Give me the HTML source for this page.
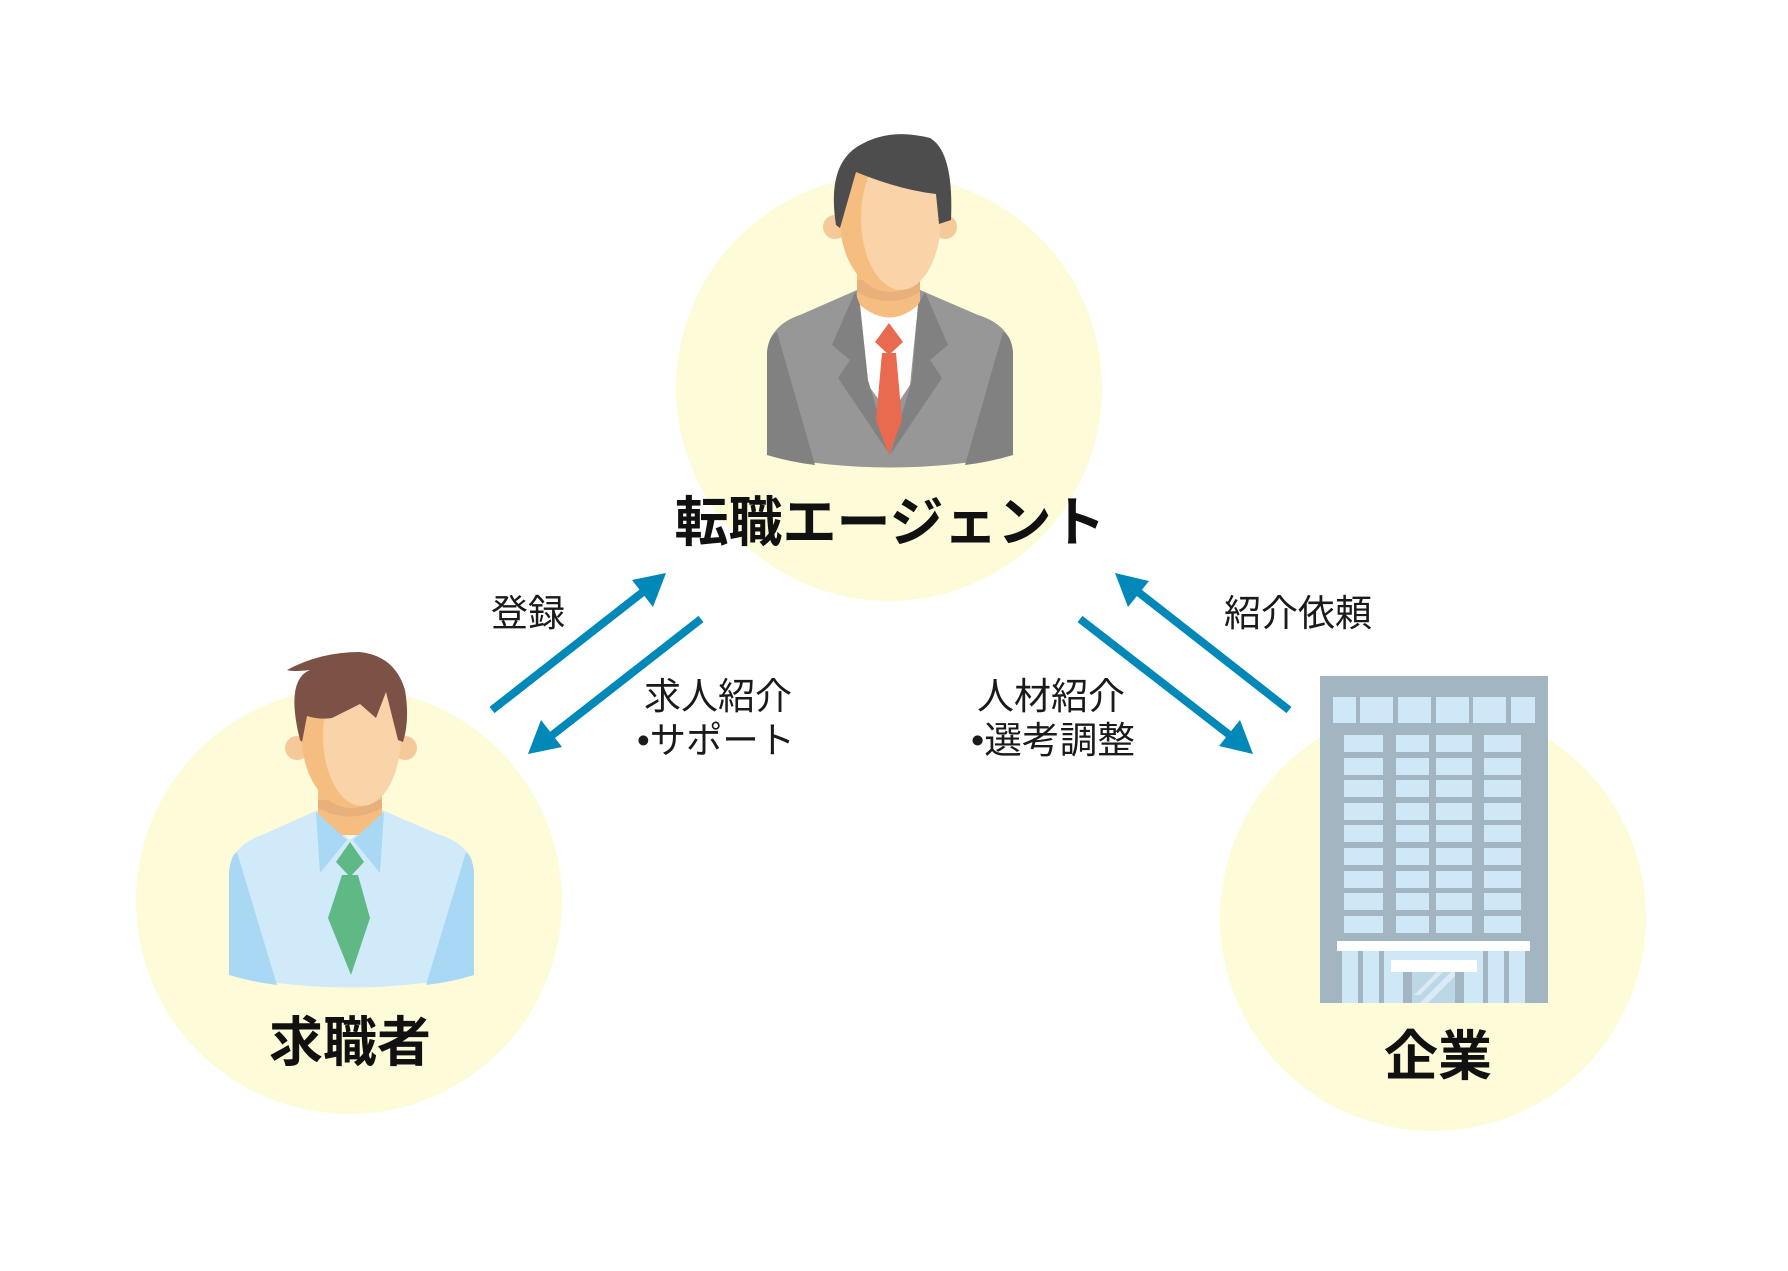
<!DOCTYPE html>
<html><head><meta charset="utf-8"><style>
html,body{margin:0;padding:0;background:#fff;}
svg{display:block;}
text{font-family:"Liberation Sans","Noto Sans CJK JP",sans-serif;}
</style></head><body>
<svg width="1788" height="1271" viewBox="0 0 1788 1271" xmlns="http://www.w3.org/2000/svg">
<rect width="1788" height="1271" fill="#fff"/>
<circle cx="889" cy="388" r="213" fill="#fefbd8"/>
<circle cx="349" cy="901" r="213" fill="#fefbd8"/>
<circle cx="1433" cy="918" r="213" fill="#fefbd8"/>

<!-- Agent -->
<g transform="translate(750,120)">
  <path d="M17,335 L17,232 Q20,205 50,195 L107,170 L140,200 L170,170 L228,195 Q260,205 263,232 L263,335 Q140,360 17,335 Z" fill="#969796"/>
  <path d="M17,335 L17,232 Q19,215 27,212 L65,345 Q40,342 17,335 Z" fill="#818181"/>
  <path d="M263,335 L263,232 Q261,215 253,212 L215,345 Q240,342 263,335 Z" fill="#818181"/>
  <rect x="107" y="145" width="63" height="55" fill="#f6bd80"/>
  <path d="M107,172 Q140,190 170,172 L170,160 L107,160Z" fill="#e8b07a"/>
  <path d="M110,185 Q140,210 168,185 L160,265 L140,295 L118,265 Z" fill="#fff"/>
  <path d="M105,172 L82,225 L100,240 L88,258 L140,335 L118,260 L110,185Z" fill="#818181"/>
  <path d="M175,172 L198,225 L180,240 L192,258 L140,335 L162,260 L168,185Z" fill="#818181"/>
  <path d="M139,203 L153,222 L139,235 L125,222Z" fill="#e96a4f"/>
  <path d="M132,233 L146,233 L152,300 L139,335 L126,300Z" fill="#e96a4f"/>
  <circle cx="85" cy="107" r="12" fill="#f6c999"/>
  <circle cx="195" cy="107" r="12" fill="#f6c999"/>
  <ellipse cx="140" cy="100" rx="50" ry="72" fill="#f6bd80"/>
  <ellipse cx="151" cy="98" rx="40" ry="72" fill="#f9d4a8"/>
  <path d="M86,105 Q76,42 112,24 Q140,8 180,18 Q204,32 201,100 L189,104 L186,74 Q150,70 106,52 L90,108 Z" fill="#4d4d4d"/>
</g>

<!-- Seeker -->
<g transform="translate(210,640)">
  <path d="M19,335 L19,232 Q22,205 52,195 L108,170 L140,200 L172,170 L230,195 Q262,205 264,232 L264,335 Q140,360 19,335 Z" fill="#d0eaf9"/>
  <path d="M19,335 L19,232 Q21,215 27,212 L67,345 Q42,342 19,335 Z" fill="#a9d8f5"/>
  <path d="M264,335 L264,232 Q262,215 256,212 L216,345 Q242,342 264,335 Z" fill="#a9d8f5"/>
  <rect x="108" y="145" width="64" height="50" fill="#f6bd80"/>
  <path d="M108,168 Q140,185 172,168 L172,160 L108,160Z" fill="#e8b07a"/>
  <path d="M108,172 Q140,215 172,172 L172,176 Q140,206 108,176Z" fill="#f6bd80"/>
  <path d="M106,172 L110,233 L137,200 Z" fill="#a9d8f5"/>
  <path d="M174,172 L170,233 L143,200 Z" fill="#a9d8f5"/>
  <path d="M140,202 L154,222 L140,237 L126,222Z" fill="#5fb985"/>
  <path d="M132,235 L148,235 L160,278 L141,335 L118,278Z" fill="#5fb985"/>
  <circle cx="87" cy="108" r="12" fill="#f6c999"/>
  <circle cx="195" cy="108" r="12" fill="#f6c999"/>
  <ellipse cx="141" cy="98" rx="49" ry="70" fill="#f6bd80"/>
  <ellipse cx="152" cy="96" rx="39" ry="70" fill="#f9d4a8"/>
  <path d="M90,100 Q75,40 100,30 Q82,32 77,30 Q110,12 150,12 Q185,16 195,50 Q200,80 193,102 L188,100 L176,52 L166,78 L150,64 L122,78 Q110,80 97,76 L92,102 Z" fill="#7d5246"/>
</g>

<!-- Building -->
<g>
  <rect x="1320" y="676" width="228" height="327" fill="#a3b5c1"/>
  <g fill="#cfe8f7">
    <rect x="1333" y="697" width="23" height="26"/>
    <rect x="1360" y="697" width="33" height="26"/>
    <rect x="1398" y="697" width="33" height="26"/>
    <rect x="1436" y="697" width="33" height="26"/>
    <rect x="1473" y="697" width="33" height="26"/>
    <rect x="1511" y="697" width="24" height="26"/>
  </g>
  <g fill="#cfe8f7">
    <rect x="1344" y="735" width="39" height="17"/><rect x="1396" y="735" width="33" height="17"/><rect x="1436" y="735" width="36" height="17"/><rect x="1484" y="735" width="37" height="17"/>
    <rect x="1344" y="758" width="39" height="17"/><rect x="1396" y="758" width="33" height="17"/><rect x="1436" y="758" width="36" height="17"/><rect x="1484" y="758" width="37" height="17"/>
    <rect x="1344" y="780" width="39" height="17"/><rect x="1396" y="780" width="33" height="17"/><rect x="1436" y="780" width="36" height="17"/><rect x="1484" y="780" width="37" height="17"/>
    <rect x="1344" y="803" width="39" height="17"/><rect x="1396" y="803" width="33" height="17"/><rect x="1436" y="803" width="36" height="17"/><rect x="1484" y="803" width="37" height="17"/>
    <rect x="1344" y="825" width="39" height="17"/><rect x="1396" y="825" width="33" height="17"/><rect x="1436" y="825" width="36" height="17"/><rect x="1484" y="825" width="37" height="17"/>
    <rect x="1344" y="848" width="39" height="17"/><rect x="1396" y="848" width="33" height="17"/><rect x="1436" y="848" width="36" height="17"/><rect x="1484" y="848" width="37" height="17"/>
    <rect x="1344" y="871" width="39" height="17"/><rect x="1396" y="871" width="33" height="17"/><rect x="1436" y="871" width="36" height="17"/><rect x="1484" y="871" width="37" height="17"/>
    <rect x="1344" y="893" width="39" height="17"/><rect x="1396" y="893" width="33" height="17"/><rect x="1436" y="893" width="36" height="17"/><rect x="1484" y="893" width="37" height="17"/>
    <rect x="1344" y="916" width="39" height="17"/><rect x="1396" y="916" width="33" height="17"/><rect x="1436" y="916" width="36" height="17"/><rect x="1484" y="916" width="37" height="17"/>
  </g>
  <rect x="1342" y="951" width="183" height="52" fill="#cfe8f7"/>
  <g fill="#a3b5c1">
    <rect x="1358" y="951" width="5" height="52"/><rect x="1379" y="951" width="5" height="52"/>
    <rect x="1483" y="951" width="5" height="52"/><rect x="1504" y="951" width="5" height="52"/>
    <rect x="1403" y="972" width="61" height="31"/>
  </g>
  <rect x="1412" y="972" width="43" height="31" fill="#bcd7e5"/>
  <path d="M1414,995 L1437,972 L1443,972 L1420,995Z M1420,1003 L1451,972 L1455,972 L1455,976 L1428,1003Z" fill="#d9ebf5"/>
  <rect x="1337" y="941" width="193" height="10" fill="#fff"/>
  <rect x="1391" y="960" width="86" height="12" fill="#fff"/>
</g>

<!-- Arrows -->
<g stroke="#0088b8" stroke-width="8" fill="#0088b8">
  <line x1="492" y1="710" x2="648" y2="588"/>
  <line x1="701" y1="619" x2="546" y2="740"/>
  <line x1="1080" y1="619" x2="1236" y2="740"/>
  <line x1="1289" y1="710" x2="1133" y2="588"/>
</g>
<g fill="#0088b8">
  <polygon points="666,573 653,607 632,580"/>
  <polygon points="528,754 541,720 562,747"/>
  <polygon points="1253,754 1219,746 1240,720"/>
  <polygon points="1115,573 1149,581 1128,607"/>
</g>

<!-- Labels -->
<g font-size="37" fill="#1a1a1a">
  <text x="491" y="626">登録</text>
  <text x="644" y="709">求人紹介</text>
  <text x="637" y="753" textLength="158" lengthAdjust="spacingAndGlyphs">•サポート</text>
  <text x="977" y="709">人材紹介</text>
  <text x="971" y="753" textLength="164" lengthAdjust="spacingAndGlyphs">•選考調整</text>
  <text x="1224" y="626">紹介依頼</text>
</g>
<g font-size="54" font-weight="bold" fill="#111" text-anchor="middle">
  <text x="890" y="541">転職エージェント</text>
  <text x="350" y="1061">求職者</text>
  <text x="1438" y="1075">企業</text>
</g>
</svg>
</body></html>
